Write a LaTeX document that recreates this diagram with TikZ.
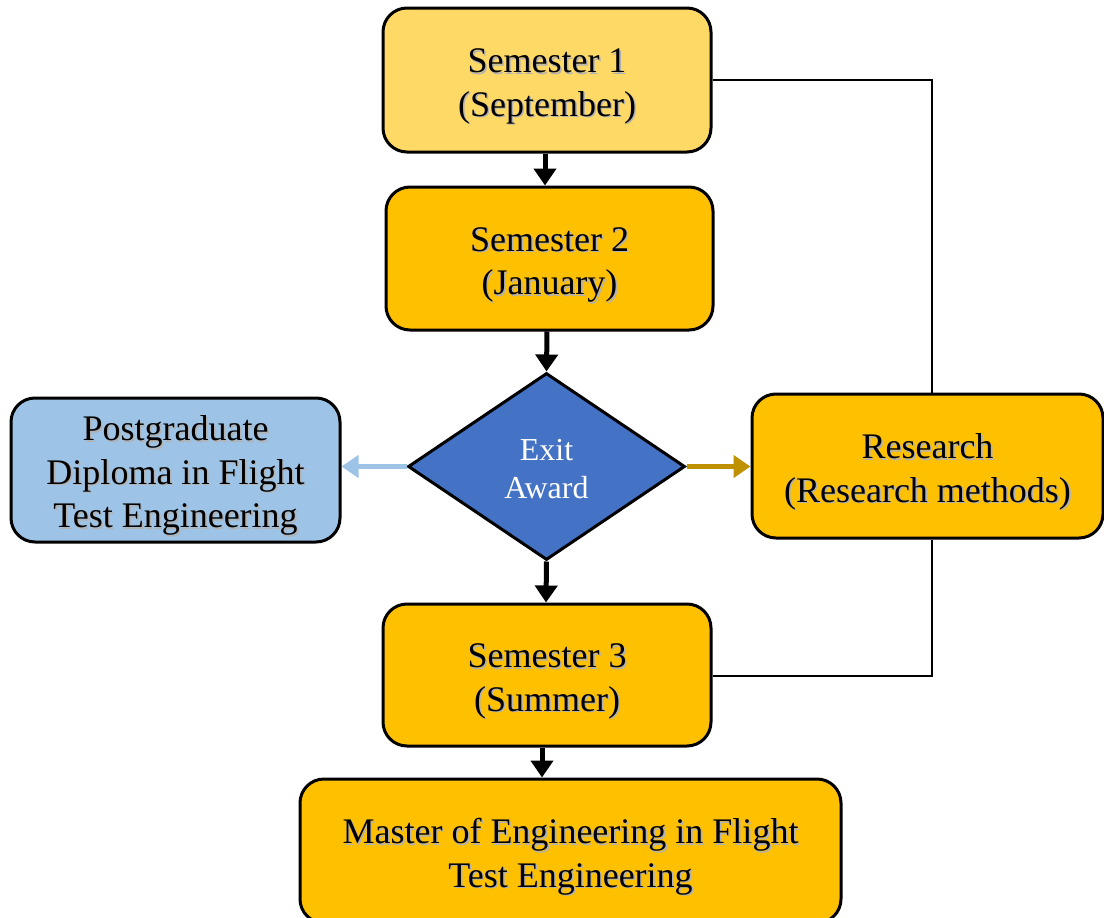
\documentclass[tikz,border=0pt]{standalone}
\usepackage{fontspec}
\setmainfont{Liberation Serif}
\usetikzlibrary{arrows.meta,shapes.geometric}
\definecolor{lightgold}{HTML}{FFD966}
\definecolor{gold}{HTML}{FFC000}
\definecolor{darkgold}{HTML}{BF9000}
\definecolor{paleblue}{HTML}{9DC3E6}
\definecolor{midblue}{HTML}{4472C4}
\newcommand\shd[1]{\makebox[0pt][l]{\hspace{1.6pt}\raisebox{-1.6pt}{\color{black!30}#1}}#1}
\newcommand\topst{\rule{0pt}{38pt}}
\newcommand\botst{\rule[-9pt]{0pt}{9pt}}
\tikzset{
  box/.style={draw=black, line width=3pt, rounded corners=24pt, align=center,
    inner sep=0pt, font=\fontsize{36}{43.5}\selectfont},
  decide/.style={draw=black, line width=3pt, diamond, aspect=1.481, inner sep=0pt,
    fill=midblue, text=white, align=center, font=\fontsize{32}{38}\selectfont},
  flow/.style={line width=5pt, -{Triangle[width=22pt,length=17pt]}},
  link/.style={line width=2.5pt}
}
\begin{document}
\begin{tikzpicture}[x=1pt,y=-1pt]
\useasboundingbox (0,0) rectangle (1104,918);
\clip (0,0) rectangle (1104,918);
\node[box, fill=lightgold, minimum width=328pt, minimum height=144pt] (s1) at (547,80)
  {\topst\shd{Semester 1}\\\shd{(September)}\botst};
\node[box, fill=gold, minimum width=327pt, minimum height=143pt] (s2) at (549.5,258.5)
  {\topst\shd{Semester 2}\\\shd{(January)}\botst};
\node[decide, minimum width=277pt, minimum height=187pt] (ex) at (546.5,466.5)
  {\rule{0pt}{34pt}Exit\\Award\rule[-8pt]{0pt}{8pt}};
\node[box, fill=paleblue, minimum width=329pt, minimum height=144pt] (pg) at (175.5,470)
  {\topst\shd{Postgraduate}\\\shd{Diploma in Flight}\\\shd{Test Engineering}\botst};
\node[box, fill=gold, minimum width=351pt, minimum height=144pt] (rs) at (927.5,466)
  {\topst\shd{Research}\\\shd{(Research methods)}\botst};
\node[box, fill=gold, minimum width=328pt, minimum height=142pt] (s3) at (547,675)
  {\topst\shd{Semester 3}\\\shd{(Summer)}\botst};
\node[box, fill=gold, minimum width=541pt, minimum height=144pt] (ms) at (570.5,851)
  {\topst\shd{Master of Engineering in Flight}\\\shd{Test Engineering}\botst};
% vertical flow arrows
\draw[flow] (s1.south -| 545,0) -- (s2.north -| 545,0);
\draw[flow] (s2.south -| 547,0) -- (ex.north);
\draw[flow] (ex.south) -- (s3.north -| 546,0);
\draw[flow] (s3.south -| 542,0) -- (ms.north -| 542,0);
% side arrows
\draw[flow, paleblue] (ex.west) -- (pg.east |- ex.west);
\draw[flow, darkgold] (ex.east) -- (rs.west |- ex.east);
% research loop
\coordinate (c1) at (932,80);
\coordinate (c2) at (932,676);
\draw[link] (s1.east |- c1) -- (c1) -- (rs.north -| c1);
\draw[link] (rs.south -| c2) -- (c2) -- (s3.east |- c2);
\end{tikzpicture}
\end{document}
